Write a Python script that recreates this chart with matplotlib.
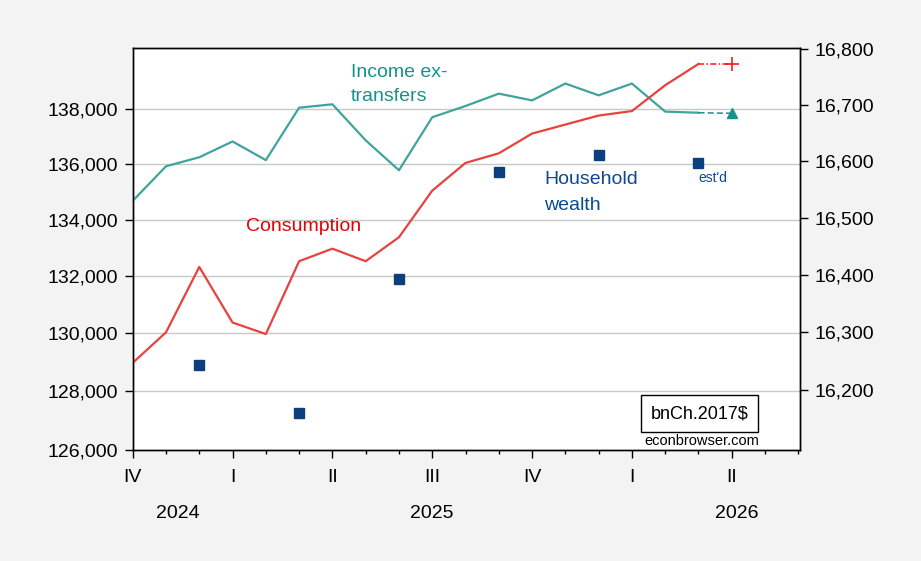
import matplotlib
matplotlib.use("Agg")
import matplotlib.pyplot as plt
from matplotlib.ticker import FixedLocator, NullLocator, FuncFormatter

plt.rcParams["font.family"] = ["Liberation Sans", "DejaVu Sans"]

# monthly index: 0 = Oct 2024 ... 17 = Mar 2026, 18 = Apr 2026 (estimate)
months = list(range(18))
consumption = [16247, 16300, 16414, 16317, 16297, 16424, 16446, 16424, 16466,
               16548, 16597, 16614, 16649, 16665, 16681, 16689, 16735, 16773]
income_ex_transfers = [16530, 16591, 16607, 16635, 16602, 16695, 16701, 16637, 16584,
                       16678, 16698, 16720, 16708, 16738, 16717, 16738, 16688, 16686]
est_month = 18
consumption_est = 16773
income_est = 16685

# household wealth, end of quarter (2024Q4 ... 2026Q1 est'd)
wealth_months = [2, 5, 8, 11, 14, 17]
wealth = [128917, 127275, 131911, 135698, 136315, 136024]

quarter_ticks = [0, 3, 6, 9, 12, 15, 18]
quarter_labels = ["IV", "I", "II", "III", "IV", "I", "II"]
years = ["2024", "2025", "2026"]
year_pos = [1.35, 9.0, 18.15]

left_ticks = [126000, 128000, 130000, 132000, 134000, 136000, 138000]
right_ticks = [16200, 16300, 16400, 16500, 16600, 16700, 16800]

TEAL = "#40a39d"
TEAL_TXT = "#17918c"
RED = "#e8423f"
NAVY = "#0c3f7e"

fig = plt.figure(figsize=(9.21, 5.61), dpi=100, facecolor="#f3f3f3")
ax = fig.add_axes([0.1441, 0.197, 0.7245, 0.7169])
ax2 = ax.twinx()

comma = FuncFormatter(lambda v, p: f"{v:,.0f}")

# left axis: household wealth (log)
ax.set_yscale("log")
ax.set_ylim(126000, 140266)
ax.yaxis.set_major_locator(FixedLocator(left_ticks))
ax.yaxis.set_minor_locator(NullLocator())
ax.yaxis.set_major_formatter(comma)
for t in left_ticks[1:]:
    ax.axhline(t, color="#c8c8c8", lw=1.0, zorder=0)
ax.plot(wealth_months, wealth, ls="none", marker="s", ms=6.5, color=NAVY, zorder=3)

# right axis: consumption and income ex-transfers (log)
ax2.set_yscale("log")
ax2.set_ylim(16096, 16801)
ax2.yaxis.set_major_locator(FixedLocator(right_ticks))
ax2.yaxis.set_minor_locator(NullLocator())
ax2.yaxis.set_major_formatter(comma)

ax2.plot(months, income_ex_transfers, color=TEAL, lw=1.6)
ax2.plot(months, consumption, color=RED, lw=1.6)
ax2.plot([months[-1], est_month], [income_ex_transfers[-1], income_est],
         color="#1f8f89", lw=1.1, ls=(0, (4, 2)))
ax2.plot([months[-1], est_month], [consumption[-1], consumption_est],
         color="#ff1a1a", lw=1.1, ls=(0, (4, 1.5, 1, 1.5)))
ax2.plot([est_month], [income_est], marker="^", ms=7, color="#17918c", ls="none")
ax2.plot([est_month], [consumption_est], marker="+", ms=10, mew=1.2, color="#ff1a1a", ls="none")

# x axis
ax.set_xlim(0, 20.05)
ax.xaxis.set_major_locator(FixedLocator(quarter_ticks))
ax.xaxis.set_minor_locator(FixedLocator(range(0, 21)))
ax.set_xticklabels(quarter_labels)

ax.tick_params(axis="x", which="major", length=6, width=1, labelsize=14, pad=7.5)
ax.tick_params(axis="x", which="minor", length=3, width=1)
ax.tick_params(axis="y", length=6, width=1, labelsize=14, pad=4.5)
ax2.tick_params(axis="y", length=6, width=1, labelsize=14, pad=4.5)

for a in (ax, ax2):
    for s in a.spines.values():
        s.set_linewidth(1.0)
        s.set_color("black")

for y, p in zip(years, year_pos):
    ax.text(p, -0.167, y, transform=ax.get_xaxis_transform(), ha="center",
            va="baseline", fontsize=14)

# annotations (figure pixel positions)
def fx(px):
    return px / 921

def fy(py):
    return 1 - py / 561

fig.text(fx(351), fy(77), "Income ex-", color=TEAL_TXT, fontsize=14, va="baseline")
fig.text(fx(351), fy(101), "transfers", color=TEAL_TXT, fontsize=14, va="baseline")
fig.text(fx(245.5), fy(231), "Consumption", color="#e60000", fontsize=14, va="baseline")
fig.text(fx(544), fy(184.5), "Household", color="#0b4a8f", fontsize=14, va="baseline")
fig.text(fx(544), fy(209.5), "wealth", color="#0b4a8f", fontsize=14, va="baseline")
fig.text(fx(698.5), fy(182), "est'd", color="#0b4a8f", fontsize=10, va="baseline")

fig.text(fx(699.5), fy(418), "bnCh.2017$", fontsize=13, ha="center", va="baseline",
         bbox=dict(boxstyle="square,pad=0.55", fc="white", ec="black", lw=1.0))
fig.text(fx(701.5), fy(445), "econbrowser.com", fontsize=10.5, ha="center", va="baseline")

fig.savefig("out.png", dpi=100, facecolor=fig.get_facecolor())
